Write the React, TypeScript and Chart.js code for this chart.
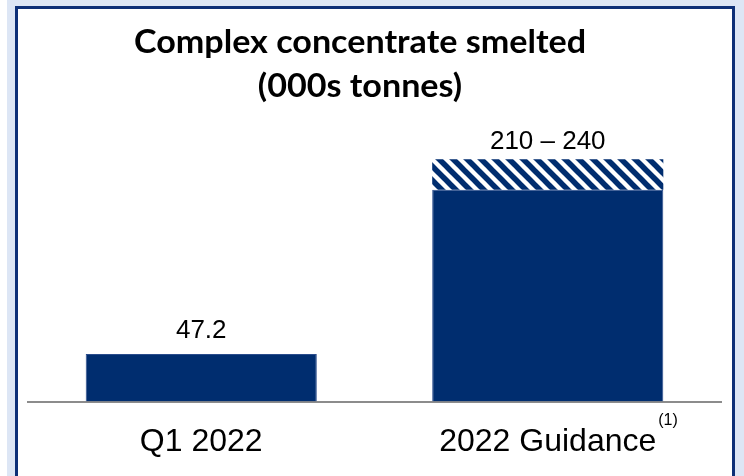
import React, { useEffect, useRef } from 'react';
import { Chart, registerables } from 'chart.js';

Chart.register(...registerables);

// ---- data ----
const categories = ['Q1 2022', '2022 Guidance'];
const baseValues = [47.2, 210];
const rangeValues = [0, 30];
const valueLabels = ['47.2', '210 – 240'];
const footnotes = ['', '(1)'];
const titleLines = ['Complex concentrate smelted', '(000s tonnes)'];

const NAVY = '#002D6F';
const AXIS_GREY = '#8c8c8c';
const LABEL_FONT = '"Liberation Sans", Arial, sans-serif';

function makeHatch(): CanvasPattern | string {
  const s = 14;
  const c = document.createElement('canvas');
  c.width = s;
  c.height = s;
  const ctx = c.getContext('2d');
  if (!ctx) return NAVY;
  ctx.fillStyle = '#ffffff';
  ctx.fillRect(0, 0, s, s);
  ctx.strokeStyle = NAVY;
  ctx.lineWidth = 5.5;
  for (const o of [-s, 0, s]) {
    ctx.beginPath();
    ctx.moveTo(o - 2, -2);
    ctx.lineTo(o + s + 2, s + 2);
    ctx.stroke();
  }
  return ctx.createPattern(c, 'repeat') || NAVY;
}

const overlayPlugin = {
  id: 'overlay',
  afterDraw(chart: any) {
    const ctx: CanvasRenderingContext2D = chart.ctx;
    ctx.save();
    // title
    ctx.fillStyle = '#000000';
    ctx.font = 'bold 33px Lato, "DejaVu Sans", sans-serif';
    ctx.textAlign = 'center';
    ctx.textBaseline = 'alphabetic';
    const w = ctx.measureText(titleLines[0]).width;
    const sx = 452 / w;
    titleLines.forEach((t, i) => {
      ctx.save();
      ctx.translate(360, 53 + i * 44);
      ctx.scale(sx, 1);
      ctx.fillText(t, 0, 0);
      ctx.restore();
    });

    // value labels above the stacks
    const topMeta = chart.getDatasetMeta(1);
    ctx.font = `26px ${LABEL_FONT}`;
    ctx.textAlign = 'center';
    topMeta.data.forEach((el: any, i: number) => {
      const gap = i === 0 ? 16 : 10;
      ctx.fillText(valueLabels[i], el.x, el.y - gap);
    });

    // footnote superscripts on category labels
    const xScale = chart.scales.x;
    categories.forEach((cat, i) => {
      if (!footnotes[i]) return;
      ctx.font = `32px ${LABEL_FONT}`;
      const cw = ctx.measureText(cat).width;
      const x = xScale.getPixelForValue(i) + cw / 2 + 2;
      ctx.font = `16px ${LABEL_FONT}`;
      ctx.textAlign = 'left';
      ctx.fillText(footnotes[i], x, 425);
    });
    ctx.restore();
  },
};

export default function App() {
  const canvasRef = useRef<HTMLCanvasElement | null>(null);

  useEffect(() => {
    const canvas = canvasRef.current;
    if (!canvas) return;
    const chart = new Chart(canvas, {
      type: 'bar',
      data: {
        labels: categories,
        datasets: [
          {
            label: 'Smelted',
            data: baseValues,
            backgroundColor: NAVY,
            borderColor: '#2a4c8c',
            borderWidth: 1,
            barPercentage: 0.667,
            categoryPercentage: 1,
          },
          {
            label: 'Guidance range',
            data: rangeValues,
            backgroundColor: makeHatch() as any,
            borderWidth: 0,
            barPercentage: 0.667,
            categoryPercentage: 1,
          },
        ],
      },
      options: {
        animation: false,
        responsive: false,
        maintainAspectRatio: false,
        devicePixelRatio: 1,
        layout: { padding: { left: 28, right: 23, top: 119, bottom: -6 } },
        plugins: {
          legend: { display: false },
          tooltip: { enabled: false },
          title: { display: false },
        },
        scales: {
          x: {
            stacked: true,
            grid: { display: false, drawTicks: false },
            border: { display: true, color: AXIS_GREY, width: 2 },
            ticks: {
              color: '#000000',
              font: { family: LABEL_FONT, size: 32 },
              padding: 21,
              maxRotation: 0,
            },
          },
          y: {
            stacked: true,
            display: false,
            min: 0,
            max: 280,
          },
        },
      },
      plugins: [overlayPlugin],
    });
    return () => chart.destroy();
  }, []);

  return (
    <div
      style={{
        position: 'absolute',
        left: 0,
        top: 0,
        width: 744,
        height: 476,
        overflow: 'hidden',
        background: '#ffffff',
      }}
    >
      <div
        style={{
          position: 'absolute',
          left: 7,
          top: 0,
          width: 737,
          height: 476,
          background: '#DDE6F5',
        }}
      />
      <div
        style={{
          position: 'absolute',
          left: 15,
          top: 6,
          width: 720,
          height: 520,
          boxSizing: 'border-box',
          border: '3px solid #0D2F77',
          background: '#ffffff',
        }}
      />
      <canvas
        ref={canvasRef}
        width={744}
        height={476}
        style={{ position: 'absolute', left: 0, top: 0, width: 744, height: 476 }}
      />
    </div>
  );
}
